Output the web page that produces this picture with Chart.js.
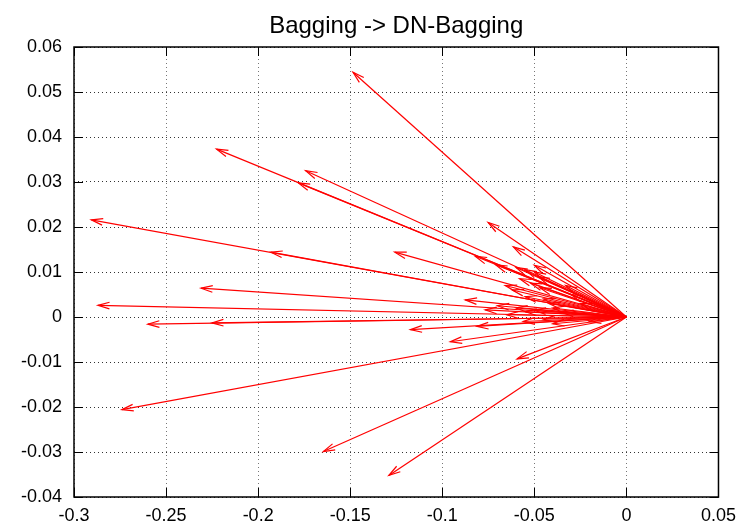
<!DOCTYPE html>
<html>
<head>
<meta charset="utf-8">
<script src="https://cdn.jsdelivr.net/npm/chart.js@4/dist/chart.umd.min.js"></script>
<style>
  html, body { margin: 0; padding: 0; background: #fff; }
  #wrap { width: 744px; height: 529px; }
</style>
</head>
<body>
<div id="wrap"><canvas id="vecCanvas" width="744" height="529"></canvas></div>
<script>
// arrow end points (every arrow starts at the origin)
const endX = [
  -0.1485, -0.2226, -0.1742, -0.1782, -0.2906, -0.1931, -0.2310, -0.2870,
  -0.2599, -0.2251, -0.2740, -0.1646, -0.1290, -0.0751, -0.0614, -0.1258,
  -0.0821, -0.0658, -0.0875, -0.0767, -0.0812, -0.1173, -0.0956, -0.0594,
  -0.0600, -0.0550, -0.0500, -0.0580, -0.0520, -0.0470, -0.0620, -0.0550,
  -0.0450, -0.0700, -0.0600, -0.0500, -0.0400, -0.0650, -0.0550, -0.0450,
  -0.0350, -0.0300, -0.0400, -0.0250, -0.0200, -0.0710, -0.0500, -0.0480,
  -0.0420, -0.0560, -0.0330
];
const endY = [
   0.0544,  0.0373,  0.0325,  0.0298,  0.0216,  0.0144,  0.0064,  0.0026,
  -0.0016, -0.0013, -0.0206, -0.0299, -0.0352,  0.0210,  0.0156,  0.0144,
   0.0135,  0.0070,  0.0038,  0.0016, -0.0021, -0.0028, -0.0055, -0.0093,
   0.0110,  0.0105,  0.0100,  0.0085,  0.0075,  0.0065,  0.0060,  0.0045,
   0.0040,  0.0025,  0.0020,  0.0015,  0.0020,  0.0005,  0.0012, -0.0005,
   0.0010,  0.0050, -0.0015,  0.0030, -0.0010,  0.0116,  0.0115,  0.0090,
   0.0030, -0.0010,  0.0070
];
const xTicks = [-0.3, -0.25, -0.2, -0.15, -0.1, -0.05, 0, 0.05];
const yTicks = [-0.04, -0.03, -0.02, -0.01, 0, 0.01, 0.02, 0.03, 0.04, 0.05, 0.06];
const titleText = "Bagging -> DN-Bagging";

const fontFam = "'Liberation Sans', Arial, sans-serif";
const red = "#ff0000";

const datasets = endX.map((x, i) => ({
  data: [{ x: 0, y: 0 }, { x: x, y: endY[i] }],
  showLine: true,
  borderColor: red,
  borderWidth: 1.2,
  pointRadius: 0,
  pointHoverRadius: 0
}));

function fmt(v) {
  return String(parseFloat(v.toFixed(3)));
}

// open arrow heads at the tip of every vector
const arrowHeads = {
  id: "arrowHeads",
  afterDatasetsDraw(chart) {
    const ctx = chart.ctx;
    const sx = chart.scales.x, sy = chart.scales.y;
    const len = 12, ang = 0.28;
    ctx.save();
    ctx.strokeStyle = red;
    ctx.lineWidth = 1.2;
    endX.forEach((x, i) => {
      const x0 = sx.getPixelForValue(0), y0 = sy.getPixelForValue(0);
      const x1 = sx.getPixelForValue(x), y1 = sy.getPixelForValue(endY[i]);
      const a = Math.atan2(y1 - y0, x1 - x0);
      ctx.beginPath();
      ctx.moveTo(x1 - len * Math.cos(a - ang), y1 - len * Math.sin(a - ang));
      ctx.lineTo(x1, y1);
      ctx.lineTo(x1 - len * Math.cos(a + ang), y1 - len * Math.sin(a + ang));
      ctx.stroke();
    });
    ctx.restore();
  }
};

// gnuplot style frame with inward ticks on all four sides
const frame = {
  id: "frame",
  afterDraw(chart) {
    const ctx = chart.ctx;
    const a = chart.chartArea;
    const sx = chart.scales.x, sy = chart.scales.y;
    const t = 9;
    ctx.save();
    ctx.strokeStyle = "#000";
    ctx.lineWidth = 1;
    ctx.beginPath();
    xTicks.forEach(v => {
      const p = Math.round(sx.getPixelForValue(v)) + 0.5;
      ctx.moveTo(p, a.bottom); ctx.lineTo(p, a.bottom - t);
      ctx.moveTo(p, a.top); ctx.lineTo(p, a.top + t);
    });
    yTicks.forEach(v => {
      const p = Math.round(sy.getPixelForValue(v)) + 0.5;
      ctx.moveTo(a.left, p); ctx.lineTo(a.left + t, p);
      ctx.moveTo(a.right, p); ctx.lineTo(a.right - t, p);
    });
    ctx.stroke();
    ctx.lineWidth = 1.5;
    ctx.strokeRect(a.left, a.top, a.right - a.left, a.bottom - a.top);
    ctx.restore();
  }
};

new Chart(document.getElementById("vecCanvas"), {
  type: "scatter",
  data: { datasets: datasets },
  options: {
    responsive: false,
    animation: false,
    events: [],
    layout: { padding: { left: 0, right: 23, top: 0, bottom: 0 } },
    plugins: {
      legend: { display: false },
      tooltip: { enabled: false },
      title: {
        display: true,
        text: titleText,
        fullSize: false,
        color: "#000",
        font: { family: fontFam, size: 24, weight: "normal" },
        padding: { top: 12, bottom: 6.2 }
      }
    },
    scales: {
      x: {
        type: "linear",
        min: -0.3,
        max: 0.05,
        afterBuildTicks: s => { s.ticks = xTicks.map(v => ({ value: v })); },
        afterFit: s => { s.height = 32; },
        grid: { color: "#777", lineWidth: 1, drawTicks: false },
        border: { display: false, dash: [1, 3] },
        ticks: {
          color: "#000",
          padding: 8,
          maxRotation: 0,
          autoSkip: false,
          font: { family: fontFam, size: 18 },
          callback: v => fmt(v)
        }
      },
      y: {
        type: "linear",
        min: -0.04,
        max: 0.06,
        afterBuildTicks: s => { s.ticks = yTicks.map(v => ({ value: v })); },
        afterFit: s => { s.width = 74; },
        grid: { color: "#333", lineWidth: 1, drawTicks: false },
        border: { display: false, dash: [1, 3] },
        ticks: {
          color: "#000",
          padding: 12,
          autoSkip: false,
          font: { family: fontFam, size: 18 },
          callback: v => fmt(v)
        }
      }
    }
  },
  plugins: [arrowHeads, frame]
});
</script>
</body>
</html>
